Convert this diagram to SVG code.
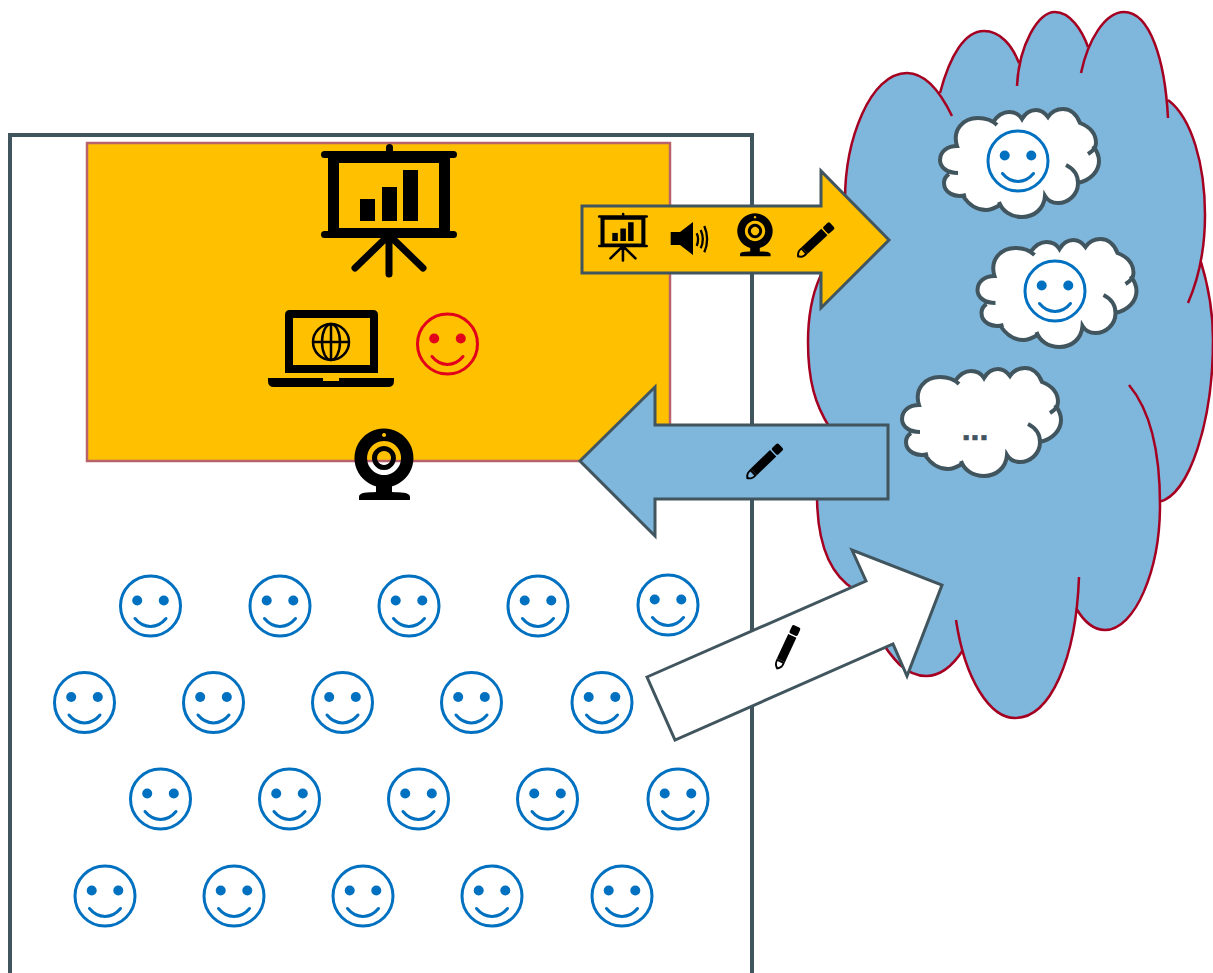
<svg xmlns="http://www.w3.org/2000/svg" width="1213" height="973" viewBox="0 0 1213 973">
<style>
.face{fill:none;stroke:#0070c0;stroke-width:3}
.eye{fill:#0070c0}
.mouth{fill:none;stroke:#0070c0;stroke-width:3;stroke-linecap:round}
.face.red,.mouth.red{stroke:#e3001b}
.eye.red{fill:#e3001b}
.arrow{stroke:#41555f;stroke-width:3;stroke-linejoin:miter}
.cl{stroke:#41555f;stroke-width:4;fill:none}
.cf{fill:#fff}
.red-line{fill:none;stroke:#a50021;stroke-width:2.500}
</style>
<defs>
<g id="smile">
<circle class="face" r="30"/>
<circle class="eye" cx="-13.300" cy="-5.500" r="5"/>
<circle class="eye" cx="13.300" cy="-5.500" r="5"/>
<path class="mouth" d="M-15.500,12.500C-7,23 7,23 15.500,12.500"/>
</g>
<g id="smile-red">
<circle class="face red" r="30"/>
<circle class="eye red" cx="-13.300" cy="-5.500" r="5"/>
<circle class="eye red" cx="13.300" cy="-5.500" r="5"/>
<path class="mouth red" d="M-15.500,12.500C-7,23 7,23 15.500,12.500"/>
</g>
<g id="present">
<rect x="321" y="151" width="136" height="7" rx="3.500"/>
<rect x="321" y="231" width="136" height="7" rx="3.500"/>
<rect x="386" y="144" width="7" height="10" rx="3.500"/>
<path fill-rule="evenodd" d="M328,155H450V234H328ZM339,163V228H439V163Z"/>
<rect x="360" y="199" width="15" height="22"/>
<rect x="382" y="187" width="15" height="34"/>
<rect x="403" y="170" width="15" height="51"/>
<path d="M389,235V274M389,235L355,268M389,235L423,268" fill="none" stroke="#000" stroke-width="7" stroke-linecap="round"/>
</g>
<g id="cam">
<path fill-rule="evenodd" d="M384,428.500A29.500,29.500 0 1 1 383.900,428.500ZM384,433A2,2 0 1 0 384.100,433ZM384,441A17,17 0 1 0 384.100,441Z"/>
<path fill-rule="evenodd" d="M384,446A12,12 0 1 1 383.900,446ZM384,451A7,7 0 1 0 384.100,451Z"/>
<path d="M376,484H392V492C400,492.500 410,492 410,497V500H359V497C359,492 368,492.500 376,492Z"/>
</g>
<g id="pencil">
<path fill-rule="evenodd" d="M0,0C2,-3 4,-4.500 8,-4.500H10V4.500H8C4,4.500 2,3 0,0ZM2.500,0C4,-2 5.500,-2.700 8,-2.700V2.700C5.500,2.700 4,2 2.500,0Z"/>
<rect x="10" y="-4.500" width="27" height="9"/>
<rect x="38.500" y="-4.500" width="9" height="9" rx="1.800"/>
</g>
<g id="cloud">
<path class="cf" d="M957,173C948,173 940,168 940,160C940,151 948,146 957,146C952,130 963,118 978,118C985,118 992,120 997,125L993,122C998,115 1003,112 1009,112C1015,112 1019,114 1022,119C1026,112 1031,110 1036,110C1041,110 1045,113 1048,117C1052,111 1058,109 1063,109C1071,109 1077,115 1080,123C1090,127 1096,134 1096,143C1096,147 1093,151 1088,154L1093,146C1097,151 1099,156 1099,161C1099,171 1091,180 1078,183C1078,195 1068,203 1058,203C1053,203 1048,201 1045,196C1044,209 1034,217 1022,217C1011,217 1002,211 999,202C995,208 991,210 986,210C977,210 969,205 963,196C955,198 944,193 944,183C944,179 946,176 949,174Z"/>
<path class="cl" d="M958,173C948,173 940,168 940,160C940,151 948,146 957,146C952,130 963,118 978,118C985,118 992,120 997,125M993,122C998,115 1003,112 1009,112C1015,112 1019,114 1022,119C1026,112 1031,110 1036,110C1041,110 1045,113 1048,117C1052,111 1058,109 1063,109C1071,109 1077,115 1080,123C1090,127 1096,134 1096,143C1096,147 1093,151 1088,154M1093,146C1097,151 1099,156 1099,161C1099,171 1091,180 1078,183M1066,165C1074,169 1078,176 1078,183C1078,195 1068,203 1058,203C1053,203 1048,201 1045,196C1044,209 1034,217 1022,217C1011,217 1002,211 999,202M1000,205C995,208 991,210 986,210C977,210 969,205 963,196M966,195C955,198 944,193 944,183C944,179 946,176 949,174"/>
</g>
</defs>

<g id="frame"><path d="M10,973V135H752V973" fill="none" stroke="#41555f" stroke-width="4"/></g>
<g id="screen-area"><rect x="87" y="143" width="583" height="318" fill="#ffc000" stroke="#b8636b" stroke-width="2.500"/></g>
<g id="presentation"><use href="#present"/></g>
<g id="laptop">
<path fill-rule="evenodd" d="M290,310H373Q378,310 378,315V373H285V315Q285,310 290,310ZM293,318V365H370V318Z"/>
<path d="M268,378H323V381H339V378H394V381Q394,387 388,387H274Q268,387 268,381Z"/>
<g fill="none" stroke="#000" stroke-width="2.500">
<circle cx="331" cy="342" r="18"/><ellipse cx="331" cy="342" rx="9" ry="18"/>
<path d="M331,324V360M313,342H349"/></g>
</g>
<g id="presenter"><use href="#smile-red" x="447.500" y="344"/></g>
<g id="webcam"><use href="#cam"/></g>
<g id="audience">
<use href="#smile" x="150.500" y="606"/><use href="#smile" x="280" y="606"/><use href="#smile" x="409" y="606"/><use href="#smile" x="538" y="606"/><use href="#smile" x="668" y="605"/>
<use href="#smile" x="84.500" y="702.500"/><use href="#smile" x="213.500" y="702.500"/><use href="#smile" x="342.500" y="702.500"/><use href="#smile" x="471.500" y="702.500"/><use href="#smile" x="602" y="702.500"/>
<use href="#smile" x="160.500" y="799"/><use href="#smile" x="289.500" y="799"/><use href="#smile" x="418.500" y="799"/><use href="#smile" x="547.500" y="799"/><use href="#smile" x="678" y="799"/>
<use href="#smile" x="105" y="896"/><use href="#smile" x="234" y="896"/><use href="#smile" x="363" y="896"/><use href="#smile" x="492" y="896"/><use href="#smile" x="622" y="896"/>
</g>
<g id="big-cloud">
<path fill="#7fb6db" d="M830,428C815,405 808,380 808,342C808,320 812,295 820,277C830,250 838,225 845,200C845,140 870,73 907,73C922,73 937,85 952,116L940,93C950,55 965,31 984,31C1000,31 1012,45 1019,63L1017,86C1019,45 1038,12 1055,12C1070,12 1082,30 1088,47L1081,73C1088,40 1105,12 1124,12C1150,12 1165,60 1168,118L1168,100C1192,118 1205,165 1205,215C1205,250 1198,280 1188,303L1201,262C1208,285 1213,312 1213,340C1213,420 1190,495 1159,502L1129,385C1150,410 1160,450 1160,505C1160,570 1135,630 1105,630C1093,630 1083,620 1076,608L1079,577C1076,660 1050,718 1015,718C990,718 965,680 956,620L963,650C952,667 940,676 926,676C917,676 908,672 900,665C885,650 870,625 860,600L855,590C830,575 817,545 817,495Z"/>
<path class="red-line" d="M830,428C815,405 808,380 808,342C808,320 812,295 820,277C830,250 838,225 845,200C845,140 870,73 907,73C922,73 937,85 952,116M940,93C950,55 965,31 984,31C1000,31 1012,45 1019,63M1017,86C1019,45 1038,12 1055,12C1070,12 1082,30 1088,47M1081,73C1088,40 1105,12 1124,12C1150,12 1165,60 1168,118M1168,100C1192,118 1205,165 1205,215C1205,250 1198,280 1188,303M1201,262C1208,285 1213,312 1213,340C1213,420 1190,495 1159,502M1129,385C1150,410 1160,450 1160,505C1160,570 1135,630 1105,630C1093,630 1083,620 1076,608M1079,577C1076,660 1050,718 1015,718C990,718 965,680 956,620M963,650C952,667 940,676 926,676C917,676 908,672 900,665C885,650 870,625 860,600M855,590C830,575 817,545 817,495"/>
</g>
<g id="user-cloud-1"><use href="#cloud"/><use href="#smile" x="1018" y="161"/></g>
<g id="user-cloud-2"><use href="#cloud" x="37.500" y="130"/><use href="#smile" x="1055" y="291"/></g>
<g id="user-cloud-3"><use href="#cloud" x="-38" y="259"/><text x="975" y="439.500" text-anchor="middle" font-family="'Liberation Sans',sans-serif" font-weight="700" font-size="32" fill="#41555f" stroke="#41555f" stroke-width=".6" stroke-linejoin="round">...</text></g>
<g id="connectors">
<path class="arrow" fill="#ffc000" d="M582,206H821V171L889,240L821,308V273H582Z"/>
<path class="arrow" fill="#7fb6db" d="M888,425V499H655V536L580,461L655,387V425Z"/>
<path class="arrow" fill="#fff" d="M647,677L866,581L852,550L942,585L907,676L893,644L675,740Z"/>
</g>
<g id="stream-icons">
<use href="#present" transform="translate(479.800 159.700) scale(.368)"/>
<g id="speaker"><path d="M670.700,232H680L693,222V255L680,245H670.700Z"/>
<path d="M696.700,233.300Q699.500,239.300 696.700,246M700.700,230Q705,239.300 700.700,248.300M704.300,226Q710,239.300 704.300,252.300" fill="none" stroke="#000" stroke-width="2.300"/></g>
<use href="#cam" transform="translate(524.600 -43.800) scale(.6)"/>
<use href="#pencil" transform="translate(797.300 257.300) rotate(-43)"/>
<use href="#pencil" transform="translate(746.500 479) rotate(-44)"/>
<use href="#pencil" transform="translate(776.700 669.500) rotate(-65)"/>
</g>
</svg>
